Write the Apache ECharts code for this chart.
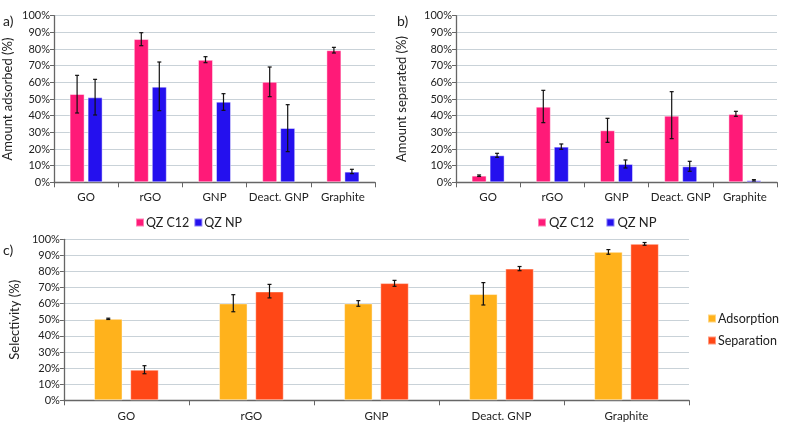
<!DOCTYPE html>
<html><head><meta charset="utf-8">
<script src="https://cdn.jsdelivr.net/npm/echarts@6/dist/echarts.min.js"></script>
<style>html,body{margin:0;padding:0;background:#fff}#c{width:792px;height:428px}</style>
</head><body><div id="c"></div>
<script>
var categories = ['GO','rGO','GNP','Deact. GNP','Graphite'];
var yTicks = [0,10,20,30,40,50,60,70,80,90,100];
// panel a: amount adsorbed (%)
var adsC12 = [53, 86, 73.5, 60.3, 79.3];
var adsC12Err = [[41.6,64.2],[82,89.8],[71.8,75.4],[51.4,69.2],[77.6,81]];
var adsNP = [51, 57.4, 48.4, 32.6, 6.4];
var adsNPErr = [[40.4,61.8],[43,72.2],[43.2,53.2],[18.4,46.6],[5.2,7.8]];
// panel b: amount separated (%)
var sepC12 = [4, 45.4, 31.2, 40, 41];
var sepC12Err = [[3.5,4.4],[35.8,55.2],[24,38.4],[26.2,54.4],[39.6,42.6]];
var sepNP = [16.2, 21.4, 11, 9.6, 1.2];
var sepNPErr = [[15,17.4],[19.8,23],[8.6,13.4],[6.6,12.6],[0.8,1.6]];
// panel c: selectivity (%)
var selAds = [50.6, 60.2, 60.2, 66, 92.2];
var selAdsErr = [[50.2,51],[55,65.6],[58.4,61.9],[59.2,73.1],[90.7,93.6]];
var selSep = [19, 67.6, 72.8, 81.8, 97.2];
var selSepErr = [[16.5,21.5],[63.6,72],[70.8,74.5],[80.5,83.1],[96.3,98]];

var FONT = 'Lato';
var TXT = '#222';
var PINK = '#FF1A78', BLUE = '#2410EE', ORANGE = '#FFB21C', RED = '#FF4716';

function errSeries(idx, errs, offset, cap) {
  return {
    type: 'custom', xAxisIndex: idx, yAxisIndex: idx, z: 10, silent: true,
    data: errs.map(function (e, i) { return [i, e[0], e[1]]; }),
    encode: { x: 0, y: [1, 2] },
    renderItem: function (params, api) {
      var lo = api.coord([api.value(0), api.value(1)]);
      var hi = api.coord([api.value(0), api.value(2)]);
      var x = lo[0] + offset;
      var st = { stroke: '#111', lineWidth: 1.2 };
      return { type: 'group', children: [
        { type: 'line', shape: { x1: x, y1: lo[1], x2: x, y2: hi[1] }, style: st },
        { type: 'line', shape: { x1: x - cap, y1: lo[1], x2: x + cap, y2: lo[1] }, style: st },
        { type: 'line', shape: { x1: x - cap, y1: hi[1], x2: x + cap, y2: hi[1] }, style: st }
      ]};
    }
  };
}
function barSeries(idx, name, data, color, width, gap) {
  return { type: 'bar', name: name, xAxisIndex: idx, yAxisIndex: idx, data: data,
    barWidth: width, barGap: gap,
    itemStyle: { color: color, borderColor: 'rgba(255,255,255,0.45)', borderWidth: 1 } };
}
function xAx(idx, labelMargin) {
  return { type: 'category', gridIndex: idx, data: categories,
    axisLine: { lineStyle: { color: '#666', width: 1.3 } },
    axisTick: { show: true, length: 5, lineStyle: { color: '#666' } },
    axisLabel: { color: TXT, fontFamily: FONT, fontSize: 11.5, margin: labelMargin, interval: 0 } };
}
function yAx(idx, name, gap) {
  return { type: 'value', gridIndex: idx, min: 0, max: 100, interval: 10,
    name: name, nameLocation: 'middle', nameGap: gap, nameRotate: 90,
    nameTextStyle: { color: TXT, fontFamily: FONT, fontSize: 13 },
    axisLine: { show: true, lineStyle: { color: '#666', width: 1.3 } },
    axisTick: { show: true, length: 4, lineStyle: { color: '#666' } },
    splitLine: { lineStyle: { color: '#C9D2D8', width: 1.2 } },
    axisLabel: { color: TXT, fontFamily: FONT, fontSize: 11, margin: 4,
      formatter: function (v) { return v + '%'; } } };
}

var chart = echarts.init(document.getElementById('c'));
chart.setOption({
  animation: false,
  textStyle: { fontFamily: FONT },
  grid: [
    { left: 53, right: 417, top: 15.7, bottom: 245.7 },
    { left: 456, right: 15, top: 15.7, bottom: 245.7 },
    { left: 54, right: 103, top: 239.3, bottom: 27.7 }
  ],
  xAxis: [xAx(0, 9), xAx(1, 9), xAx(2, 10)],
  yAxis: [yAx(0, 'Amount adsorbed (%)', 40), yAx(1, 'Amount separated (%)', 48), yAx(2, 'Selectivity (%)', 41)],
  legend: [
    { data: ['QZ C12', 'QZ NP'], left: 130, top: 211, itemWidth: 8, itemHeight: 8, itemGap: 4,
      icon: 'rect', textStyle: { fontFamily: FONT, fontSize: 12.5, color: TXT, padding: [0,0,0,-3] } },
    { data: ['QZ C12 ', 'QZ NP '], left: 532, top: 211, itemWidth: 8, itemHeight: 8, itemGap: 8,
      icon: 'rect', textStyle: { fontFamily: FONT, fontSize: 13, color: TXT, padding: [0,0,0,-2] } },
    { data: ['Adsorption', 'Separation'], orient: 'vertical', left: 702, top: 307, itemWidth: 8, itemHeight: 8, itemGap: 9,
      icon: 'rect', textStyle: { fontFamily: FONT, fontSize: 12.5, color: TXT, padding: [0,0,0,-3] } }
  ],
  graphic: [
    { type: 'text', left: 3, top: 14, style: { text: 'a)', fontFamily: FONT, fontSize: 14, fill: '#222' } },
    { type: 'text', left: 397, top: 14, style: { text: 'b)', fontFamily: FONT, fontSize: 14, fill: '#222' } },
    { type: 'text', left: 3, top: 243, style: { text: 'c)', fontFamily: FONT, fontSize: 14, fill: '#222' } }
  ],
  series: [
    barSeries(0, 'QZ C12', adsC12, PINK, 15, '20%'),
    barSeries(0, 'QZ NP', adsNP, BLUE, 15, '20%'),
    barSeries(1, 'QZ C12 ', sepC12, PINK, 15, '20%'),
    barSeries(1, 'QZ NP ', sepNP, BLUE, 15, '20%'),
    barSeries(2, 'Adsorption', selAds, ORANGE, 28.5, '27%'),
    barSeries(2, 'Separation', selSep, RED, 28.5, '27%'),
    errSeries(0, adsC12Err, -9, 2),
    errSeries(0, adsNPErr, 9, 2),
    errSeries(1, sepC12Err, -9, 2),
    errSeries(1, sepNPErr, 9, 2),
    errSeries(2, selAdsErr, -18.1, 2),
    errSeries(2, selSepErr, 18.1, 2)
  ]
});
</script></body></html>
